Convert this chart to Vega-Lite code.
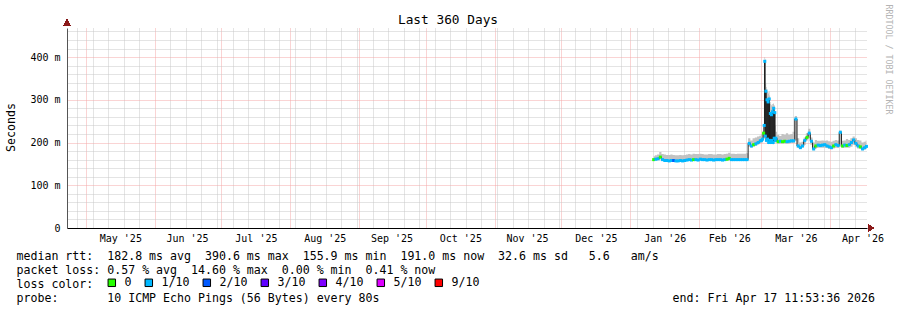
{
  "$schema": "https://vega.github.io/schema/vega-lite/v6.json",
  "width": 800,
  "height": 200,
  "autosize": {"type": "none"},
  "padding": {"left": 67, "top": 28, "right": 30, "bottom": 82},
  "background": "white",
  "config": {"view": {"stroke": null}},
  "title": {"text": "Last 360 Days", "font": "DejaVu Sans Mono", "fontSize": 12.8, "fontWeight": "normal", "color": "#000", "anchor": "middle", "frame": "group", "dx": -19, "dy": 24, "offset": 1},
  "data": {"values": [
    {"t": "2026-01-11T12:00:00", "median": 160, "lo": 158, "hi": 168, "loss": "0"},
    {"t": "2026-01-12T12:00:00", "median": 161, "lo": 158, "hi": 170, "loss": "1/10"},
    {"t": "2026-01-13T12:00:00", "median": 162, "lo": 159, "hi": 172, "loss": "1/10"},
    {"t": "2026-01-14T12:00:00", "median": 166, "lo": 160, "hi": 178, "loss": "0"},
    {"t": "2026-01-15T12:00:00", "median": 160, "lo": 157, "hi": 173, "loss": "1/10"},
    {"t": "2026-01-16T12:00:00", "median": 158, "lo": 156, "hi": 172, "loss": "1/10"},
    {"t": "2026-01-17T12:00:00", "median": 158, "lo": 156, "hi": 171, "loss": "1/10"},
    {"t": "2026-01-18T12:00:00", "median": 157, "lo": 156, "hi": 171, "loss": "1/10"},
    {"t": "2026-01-19T12:00:00", "median": 158, "lo": 156, "hi": 172, "loss": "1/10"},
    {"t": "2026-01-20T12:00:00", "median": 158, "lo": 156, "hi": 171, "loss": "2/10"},
    {"t": "2026-01-21T12:00:00", "median": 157, "lo": 156, "hi": 170, "loss": "1/10"},
    {"t": "2026-01-22T12:00:00", "median": 157, "lo": 156, "hi": 170, "loss": "1/10"},
    {"t": "2026-01-23T12:00:00", "median": 158, "lo": 156, "hi": 171, "loss": "1/10"},
    {"t": "2026-01-24T12:00:00", "median": 157, "lo": 156, "hi": 170, "loss": "1/10"},
    {"t": "2026-01-25T12:00:00", "median": 158, "lo": 156, "hi": 171, "loss": "1/10"},
    {"t": "2026-01-26T12:00:00", "median": 159, "lo": 157, "hi": 172, "loss": "1/10"},
    {"t": "2026-01-27T12:00:00", "median": 160, "lo": 158, "hi": 173, "loss": "1/10"},
    {"t": "2026-01-28T12:00:00", "median": 159, "lo": 157, "hi": 172, "loss": "1/10"},
    {"t": "2026-01-29T12:00:00", "median": 160, "lo": 158, "hi": 174, "loss": "0"},
    {"t": "2026-01-30T12:00:00", "median": 160, "lo": 158, "hi": 173, "loss": "1/10"},
    {"t": "2026-01-31T12:00:00", "median": 159, "lo": 157, "hi": 173, "loss": "1/10"},
    {"t": "2026-02-01T12:00:00", "median": 161, "lo": 158, "hi": 174, "loss": "1/10"},
    {"t": "2026-02-02T12:00:00", "median": 160, "lo": 158, "hi": 173, "loss": "1/10"},
    {"t": "2026-02-03T12:00:00", "median": 160, "lo": 158, "hi": 172, "loss": "1/10"},
    {"t": "2026-02-04T12:00:00", "median": 159, "lo": 157, "hi": 172, "loss": "1/10"},
    {"t": "2026-02-05T12:00:00", "median": 160, "lo": 158, "hi": 173, "loss": "1/10"},
    {"t": "2026-02-06T12:00:00", "median": 160, "lo": 158, "hi": 173, "loss": "1/10"},
    {"t": "2026-02-07T12:00:00", "median": 159, "lo": 157, "hi": 172, "loss": "1/10"},
    {"t": "2026-02-08T12:00:00", "median": 160, "lo": 158, "hi": 172, "loss": "1/10"},
    {"t": "2026-02-09T12:00:00", "median": 160, "lo": 158, "hi": 173, "loss": "1/10"},
    {"t": "2026-02-10T12:00:00", "median": 160, "lo": 158, "hi": 173, "loss": "1/10"},
    {"t": "2026-02-11T12:00:00", "median": 159, "lo": 157, "hi": 172, "loss": "1/10"},
    {"t": "2026-02-12T12:00:00", "median": 160, "lo": 158, "hi": 173, "loss": "1/10"},
    {"t": "2026-02-13T12:00:00", "median": 161, "lo": 158, "hi": 174, "loss": "0"},
    {"t": "2026-02-14T12:00:00", "median": 163, "lo": 158, "hi": 176, "loss": "0"},
    {"t": "2026-02-15T12:00:00", "median": 160, "lo": 158, "hi": 174, "loss": "1/10"},
    {"t": "2026-02-16T12:00:00", "median": 160, "lo": 158, "hi": 174, "loss": "1/10"},
    {"t": "2026-02-17T12:00:00", "median": 160, "lo": 158, "hi": 173, "loss": "1/10"},
    {"t": "2026-02-18T12:00:00", "median": 160, "lo": 158, "hi": 174, "loss": "1/10"},
    {"t": "2026-02-19T12:00:00", "median": 160, "lo": 158, "hi": 174, "loss": "1/10"},
    {"t": "2026-02-20T12:00:00", "median": 160, "lo": 158, "hi": 174, "loss": "1/10"},
    {"t": "2026-02-21T12:00:00", "median": 160, "lo": 158, "hi": 174, "loss": "1/10"},
    {"t": "2026-02-22T12:00:00", "median": 160, "lo": 158, "hi": 175, "loss": "1/10"},
    {"t": "2026-02-23T12:00:00", "median": 198, "lo": 190, "hi": 210, "loss": "1/10"},
    {"t": "2026-02-24T12:00:00", "median": 192, "lo": 188, "hi": 205, "loss": "1/10"},
    {"t": "2026-02-25T12:00:00", "median": 195, "lo": 190, "hi": 210, "loss": "0"},
    {"t": "2026-02-26T12:00:00", "median": 197, "lo": 192, "hi": 212, "loss": "1/10"},
    {"t": "2026-02-27T12:00:00", "median": 200, "lo": 195, "hi": 214, "loss": "1/10"},
    {"t": "2026-02-28T12:00:00", "median": 204, "lo": 198, "hi": 216, "loss": "1/10"},
    {"t": "2026-03-01T00:00:00", "median": 205, "lo": 200, "hi": 220, "loss": "1/10"},
    {"t": "2026-03-01T12:00:00", "median": 208, "lo": 200, "hi": 225, "loss": "1/10"},
    {"t": "2026-03-02T00:00:00", "median": 222, "lo": 205, "hi": 235, "loss": "0"},
    {"t": "2026-03-02T06:00:00", "median": 240, "lo": 208, "hi": 300, "loss": "1/10"},
    {"t": "2026-03-02T12:00:00", "median": 390, "lo": 210, "hi": 400, "loss": "1/10"},
    {"t": "2026-03-02T18:00:00", "median": 215, "lo": 205, "hi": 395, "loss": "1/10"},
    {"t": "2026-03-03T00:00:00", "median": 320, "lo": 205, "hi": 340, "loss": "1/10"},
    {"t": "2026-03-03T06:00:00", "median": 205, "lo": 200, "hi": 330, "loss": "1/10"},
    {"t": "2026-03-03T12:00:00", "median": 300, "lo": 205, "hi": 325, "loss": "1/10"},
    {"t": "2026-03-03T18:00:00", "median": 208, "lo": 200, "hi": 320, "loss": "1/10"},
    {"t": "2026-03-04T00:00:00", "median": 295, "lo": 205, "hi": 318, "loss": "1/10"},
    {"t": "2026-03-04T06:00:00", "median": 200, "lo": 196, "hi": 315, "loss": "1/10"},
    {"t": "2026-03-04T12:00:00", "median": 302, "lo": 205, "hi": 320, "loss": "1/10"},
    {"t": "2026-03-04T18:00:00", "median": 205, "lo": 198, "hi": 310, "loss": "1/10"},
    {"t": "2026-03-05T00:00:00", "median": 268, "lo": 200, "hi": 295, "loss": "1/10"},
    {"t": "2026-03-05T06:00:00", "median": 200, "lo": 196, "hi": 290, "loss": "1/10"},
    {"t": "2026-03-05T12:00:00", "median": 265, "lo": 200, "hi": 288, "loss": "1/10"},
    {"t": "2026-03-05T18:00:00", "median": 205, "lo": 198, "hi": 285, "loss": "1/10"},
    {"t": "2026-03-06T00:00:00", "median": 272, "lo": 200, "hi": 290, "loss": "1/10"},
    {"t": "2026-03-06T06:00:00", "median": 200, "lo": 195, "hi": 290, "loss": "1/10"},
    {"t": "2026-03-06T12:00:00", "median": 280, "lo": 205, "hi": 292, "loss": "1/10"},
    {"t": "2026-03-06T18:00:00", "median": 210, "lo": 200, "hi": 288, "loss": "1/10"},
    {"t": "2026-03-07T00:00:00", "median": 270, "lo": 200, "hi": 285, "loss": "1/10"},
    {"t": "2026-03-07T06:00:00", "median": 205, "lo": 200, "hi": 240, "loss": "1/10"},
    {"t": "2026-03-07T12:00:00", "median": 210, "lo": 200, "hi": 225, "loss": "1/10"},
    {"t": "2026-03-08T12:00:00", "median": 202, "lo": 198, "hi": 218, "loss": "0"},
    {"t": "2026-03-09T12:00:00", "median": 203, "lo": 198, "hi": 215, "loss": "1/10"},
    {"t": "2026-03-10T12:00:00", "median": 202, "lo": 198, "hi": 220, "loss": "0"},
    {"t": "2026-03-11T12:00:00", "median": 203, "lo": 198, "hi": 218, "loss": "0"},
    {"t": "2026-03-12T12:00:00", "median": 202, "lo": 198, "hi": 222, "loss": "1/10"},
    {"t": "2026-03-13T12:00:00", "median": 203, "lo": 198, "hi": 218, "loss": "1/10"},
    {"t": "2026-03-14T12:00:00", "median": 204, "lo": 199, "hi": 220, "loss": "1/10"},
    {"t": "2026-03-15T12:00:00", "median": 204, "lo": 199, "hi": 225, "loss": "1/10"},
    {"t": "2026-03-16T12:00:00", "median": 255, "lo": 205, "hi": 262, "loss": "1/10"},
    {"t": "2026-03-17T12:00:00", "median": 192, "lo": 188, "hi": 210, "loss": "1/10"},
    {"t": "2026-03-18T12:00:00", "median": 188, "lo": 185, "hi": 200, "loss": "1/10"},
    {"t": "2026-03-19T12:00:00", "median": 192, "lo": 188, "hi": 202, "loss": "1/10"},
    {"t": "2026-03-20T12:00:00", "median": 205, "lo": 195, "hi": 212, "loss": "1/10"},
    {"t": "2026-03-21T12:00:00", "median": 212, "lo": 205, "hi": 222, "loss": "0"},
    {"t": "2026-03-22T12:00:00", "median": 222, "lo": 210, "hi": 232, "loss": "1/10"},
    {"t": "2026-03-23T12:00:00", "median": 203, "lo": 195, "hi": 212, "loss": "1/10"},
    {"t": "2026-03-24T12:00:00", "median": 185, "lo": 182, "hi": 200, "loss": "1/10"},
    {"t": "2026-03-25T12:00:00", "median": 192, "lo": 186, "hi": 206, "loss": "0"},
    {"t": "2026-03-26T12:00:00", "median": 194, "lo": 188, "hi": 204, "loss": "1/10"},
    {"t": "2026-03-27T12:00:00", "median": 193, "lo": 188, "hi": 204, "loss": "1/10"},
    {"t": "2026-03-28T12:00:00", "median": 194, "lo": 188, "hi": 205, "loss": "1/10"},
    {"t": "2026-03-29T12:00:00", "median": 195, "lo": 188, "hi": 204, "loss": "1/10"},
    {"t": "2026-03-30T12:00:00", "median": 192, "lo": 187, "hi": 205, "loss": "1/10"},
    {"t": "2026-03-31T12:00:00", "median": 190, "lo": 185, "hi": 203, "loss": "1/10"},
    {"t": "2026-04-01T12:00:00", "median": 188, "lo": 184, "hi": 202, "loss": "1/10"},
    {"t": "2026-04-02T12:00:00", "median": 192, "lo": 186, "hi": 204, "loss": "0"},
    {"t": "2026-04-03T12:00:00", "median": 195, "lo": 188, "hi": 206, "loss": "1/10"},
    {"t": "2026-04-04T12:00:00", "median": 193, "lo": 187, "hi": 205, "loss": "1/10"},
    {"t": "2026-04-05T12:00:00", "median": 224, "lo": 190, "hi": 228, "loss": "1/10"},
    {"t": "2026-04-06T12:00:00", "median": 192, "lo": 187, "hi": 204, "loss": "0"},
    {"t": "2026-04-07T12:00:00", "median": 194, "lo": 188, "hi": 205, "loss": "1/10"},
    {"t": "2026-04-08T12:00:00", "median": 193, "lo": 188, "hi": 208, "loss": "0"},
    {"t": "2026-04-09T12:00:00", "median": 195, "lo": 188, "hi": 206, "loss": "1/10"},
    {"t": "2026-04-10T12:00:00", "median": 200, "lo": 190, "hi": 210, "loss": "1/10"},
    {"t": "2026-04-11T12:00:00", "median": 206, "lo": 195, "hi": 214, "loss": "1/10"},
    {"t": "2026-04-12T12:00:00", "median": 198, "lo": 190, "hi": 210, "loss": "1/10"},
    {"t": "2026-04-13T12:00:00", "median": 192, "lo": 186, "hi": 206, "loss": "1/10"},
    {"t": "2026-04-14T12:00:00", "median": 190, "lo": 185, "hi": 205, "loss": "0"},
    {"t": "2026-04-15T12:00:00", "median": 185, "lo": 182, "hi": 200, "loss": "1/10"},
    {"t": "2026-04-16T12:00:00", "median": 188, "lo": 183, "hi": 202, "loss": "1/10"},
    {"t": "2026-04-17T06:00:00", "median": 191, "lo": 185, "hi": 205, "loss": "1/10"}
  ]},
  "encoding": {
    "x": {
      "field": "t", "type": "temporal",
      "scale": {"domain": [{"year": 2025, "month": 4, "date": 22, "hours": 11, "minutes": 53, "seconds": 36}, {"year": 2026, "month": 4, "date": 17, "hours": 11, "minutes": 53, "seconds": 36}]},
      "axis": {
        "values": [
          {"year": 2025, "month": 4, "date": 27}, {"year": 2025, "month": 5, "date": 4}, {"year": 2025, "month": 5, "date": 11}, {"year": 2025, "month": 5, "date": 18}, {"year": 2025, "month": 5, "date": 25},
          {"year": 2025, "month": 6, "date": 1}, {"year": 2025, "month": 6, "date": 8}, {"year": 2025, "month": 6, "date": 15}, {"year": 2025, "month": 6, "date": 22}, {"year": 2025, "month": 6, "date": 29},
          {"year": 2025, "month": 7, "date": 6}, {"year": 2025, "month": 7, "date": 13}, {"year": 2025, "month": 7, "date": 20}, {"year": 2025, "month": 7, "date": 27},
          {"year": 2025, "month": 8, "date": 3}, {"year": 2025, "month": 8, "date": 10}, {"year": 2025, "month": 8, "date": 17}, {"year": 2025, "month": 8, "date": 24}, {"year": 2025, "month": 8, "date": 31},
          {"year": 2025, "month": 9, "date": 7}, {"year": 2025, "month": 9, "date": 14}, {"year": 2025, "month": 9, "date": 21}, {"year": 2025, "month": 9, "date": 28},
          {"year": 2025, "month": 10, "date": 5}, {"year": 2025, "month": 10, "date": 12}, {"year": 2025, "month": 10, "date": 19}, {"year": 2025, "month": 10, "date": 26},
          {"year": 2025, "month": 11, "date": 2}, {"year": 2025, "month": 11, "date": 9}, {"year": 2025, "month": 11, "date": 16}, {"year": 2025, "month": 11, "date": 23}, {"year": 2025, "month": 11, "date": 30},
          {"year": 2025, "month": 12, "date": 7}, {"year": 2025, "month": 12, "date": 14}, {"year": 2025, "month": 12, "date": 21}, {"year": 2025, "month": 12, "date": 28},
          {"year": 2026, "month": 1, "date": 4}, {"year": 2026, "month": 1, "date": 11}, {"year": 2026, "month": 1, "date": 18}, {"year": 2026, "month": 1, "date": 25},
          {"year": 2026, "month": 2, "date": 8}, {"year": 2026, "month": 2, "date": 15}, {"year": 2026, "month": 2, "date": 22},
          {"year": 2026, "month": 3, "date": 8}, {"year": 2026, "month": 3, "date": 15}, {"year": 2026, "month": 3, "date": 22}, {"year": 2026, "month": 3, "date": 29},
          {"year": 2026, "month": 4, "date": 5}, {"year": 2026, "month": 4, "date": 12},
          {"year": 2025, "month": 5, "date": 1}, {"year": 2025, "month": 7, "date": 1}, {"year": 2025, "month": 8, "date": 1}, {"year": 2025, "month": 9, "date": 1},
          {"year": 2025, "month": 10, "date": 1}, {"year": 2025, "month": 11, "date": 1}, {"year": 2025, "month": 12, "date": 1},
          {"year": 2026, "month": 1, "date": 1}, {"year": 2026, "month": 2, "date": 1}, {"year": 2026, "month": 3, "date": 1}, {"year": 2026, "month": 4, "date": 1},
          {"year": 2025, "month": 5, "date": 16, "hours": 12}, {"year": 2025, "month": 6, "date": 15, "hours": 12}, {"year": 2025, "month": 7, "date": 16, "hours": 12},
          {"year": 2025, "month": 8, "date": 16, "hours": 12}, {"year": 2025, "month": 9, "date": 15, "hours": 12}, {"year": 2025, "month": 10, "date": 16, "hours": 12},
          {"year": 2025, "month": 11, "date": 15, "hours": 12}, {"year": 2025, "month": 12, "date": 16, "hours": 12}, {"year": 2026, "month": 1, "date": 16, "hours": 12},
          {"year": 2026, "month": 2, "date": 14, "hours": 12}, {"year": 2026, "month": 3, "date": 16, "hours": 12}, {"year": 2026, "month": 4, "date": 15, "hours": 12}
        ],
        "labelExpr": "hours(datum.value) == 12 ? timeFormat(datum.value, \"%b '%y\") : ''",
        "labelFont": "DejaVu Sans Mono", "labelFontSize": 10, "labelColor": "#000", "labelPadding": 5,
        "labelOverlap": false, "labelBound": false, "labelFlush": false,
        "ticks": false,
        "domain": true, "domainColor": "#000", "domainWidth": 1,
        "grid": true,
        "gridDash": [1, 1],
        "gridColor": {"condition": {"test": "date(datum.value) == 1 && hours(datum.value) == 0", "value": "#f4a8a8"}, "value": "#c8c8c8"},
        "gridOpacity": {"condition": {"test": "hours(datum.value) == 12", "value": 0}, "value": 1},
        "title": [
          "median\u00a0rtt:\u00a0\u00a0182.8\u00a0ms\u00a0avg\u00a0\u00a0390.6\u00a0ms\u00a0max\u00a0\u00a0155.9\u00a0ms\u00a0min\u00a0\u00a0191.0\u00a0ms\u00a0now\u00a0\u00a032.6\u00a0ms\u00a0sd\u00a0\u00a0\u00a05.6\u00a0\u00a0\u00a0am/s",
          "packet\u00a0loss:\u00a00.57\u00a0%\u00a0avg\u00a0\u00a014.60\u00a0%\u00a0max\u00a0\u00a00.00\u00a0%\u00a0min\u00a0\u00a00.41\u00a0%\u00a0now",
          "loss\u00a0color:",
          "probe:\u00a0\u00a0\u00a0\u00a0\u00a0\u00a0\u00a010\u00a0ICMP\u00a0Echo\u00a0Pings\u00a0(56\u00a0Bytes)\u00a0every\u00a080s\u00a0\u00a0\u00a0\u00a0\u00a0\u00a0\u00a0\u00a0\u00a0\u00a0\u00a0\u00a0\u00a0\u00a0\u00a0\u00a0\u00a0\u00a0\u00a0\u00a0\u00a0\u00a0\u00a0\u00a0\u00a0\u00a0\u00a0\u00a0\u00a0\u00a0\u00a0\u00a0\u00a0\u00a0\u00a0\u00a0\u00a0\u00a0\u00a0\u00a0\u00a0\u00a0end:\u00a0Fri\u00a0Apr\u00a017\u00a011:53:36\u00a02026"
        ],
        "titleFont": "DejaVu Sans Mono", "titleFontSize": 11.6, "titleFontWeight": "normal", "titleColor": "#000",
        "titleAnchor": "start", "titleAlign": "left", "titleBaseline": "alphabetic",
        "titleX": -51, "titleY": 31, "titleLineHeight": 14
      }
    }
  },
  "layer": [
    {
      "mark": {"type": "area", "interpolate": "step", "color": "#c2c2c2", "opacity": 1},
      "encoding": {
        "y": {
          "field": "hi", "type": "quantitative",
          "scale": {"domain": [0, 468], "nice": false, "zero": true},
          "axis": {
            "orient": "left",
            "values": [0, 20, 40, 60, 80, 100, 120, 140, 160, 180, 200, 220, 240, 260, 280, 300, 320, 340, 360, 380, 400, 420, 440, 460],
            "labelExpr": "datum.value % 100 == 0 ? (datum.value == 0 ? '0' : datum.value + ' m') : ''",
            "labelFont": "DejaVu Sans Mono", "labelFontSize": 10, "labelColor": "#000", "labelPadding": 7,
            "ticks": false,
            "domain": true, "domainColor": "#555", "domainWidth": 1,
            "grid": true, "gridDash": [1, 1],
            "gridColor": {"condition": {"test": "datum.value % 100 == 0", "value": "#f4a8a8"}, "value": "#c8c8c8"},
            "title": "Seconds",
            "titleFont": "DejaVu Sans Mono", "titleFontSize": 11.6, "titleFontWeight": "normal", "titleColor": "#000",
            "titleAngle": -90, "titleX": -56, "titleY": 99, "titleAlign": "center", "titleBaseline": "middle"
          }
        },
        "y2": {"field": "lo"}
      }
    },
    {
      "mark": {"type": "line", "interpolate": "step", "color": "#202020", "strokeWidth": 1},
      "encoding": {
        "y": {
          "field": "median", "type": "quantitative",
          "axis": {
            "orient": "right", "labels": false, "ticks": false, "domain": false, "grid": false,
            "title": "RRDTOOL / TOBI OETIKER",
            "titleFont": "DejaVu Sans Mono", "titleFontSize": 8.3, "titleFontWeight": "normal", "titleColor": "#b4b4b4",
            "titleAngle": 90, "titleX": 20, "titleY": 31, "titleAlign": "center", "titleBaseline": "middle"
          }
        }
      }
    },
    {
      "mark": {"type": "point", "shape": "square", "filled": true, "size": 9, "opacity": 1, "strokeWidth": 0},
      "encoding": {
        "y": {"field": "median", "type": "quantitative", "axis": null},
        "color": {
          "field": "loss", "type": "nominal",
          "scale": {"domain": ["0", "1/10", "2/10", "3/10", "4/10", "5/10", "9/10"], "range": ["#26ff00", "#00b8ff", "#0059ff", "#5e00ff", "#7e00ff", "#dd00ff", "#ff0000"]},
          "legend": {
            "orient": "none", "direction": "horizontal", "legendX": 39, "legendY": 249, "title": null,
            "gridAlign": "none",
            "symbolType": "square", "symbolSize": 56, "symbolStrokeColor": "#000", "symbolStrokeWidth": 1, "symbolOpacity": 1,
            "labelFont": "DejaVu Sans Mono", "labelFontSize": 11.6, "labelColor": "#000", "labelOffset": 7,
            "columnPadding": 11, "padding": 0
          }
        }
      }
    },
    {
      "mark": {"type": "point", "shape": "triangle-up", "filled": true, "size": 40, "fill": "#8b1a1a", "stroke": null, "opacity": 1},
      "encoding": {
        "x": {"datum": {"year": 2025, "month": 4, "date": 22, "hours": 11, "minutes": 53, "seconds": 36}, "type": "temporal"},
        "y": {"datum": 481, "type": "quantitative", "axis": null}
      }
    },
    {
      "mark": {"type": "point", "shape": "triangle-right", "filled": true, "size": 40, "fill": "#8b1a1a", "stroke": null, "opacity": 1},
      "encoding": {
        "x": {"datum": {"year": 2026, "month": 4, "date": 19, "hours": 7}, "type": "temporal"},
        "y": {"datum": 0, "type": "quantitative", "axis": null}
      }
    }
  ],
  "resolve": {"axis": {"y": "independent"}}
}
